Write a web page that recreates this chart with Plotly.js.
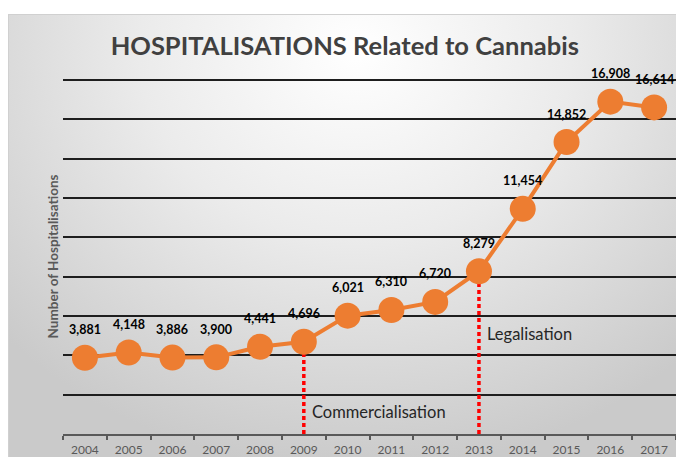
<!DOCTYPE html>
<html>
<head>
<meta charset="utf-8">
<script src="https://cdn.plot.ly/plotly-3.0.1.min.js"></script>
<style>
html,body{margin:0;padding:0;background:#fff;}
#wrap{position:relative;width:676px;height:457px;overflow:hidden;background:#fff;}
#bg{position:absolute;left:8px;top:14px;right:0;bottom:0;
 background:radial-gradient(ellipse 72% 95% at 52% 8%, #ffffff 0%, #ebebeb 45%, #d3d3d3 85%, #cacaca 100%);
 border-top:1px solid #d0d0d0;border-left:1px solid #d0d0d0;}
#chart{position:absolute;left:0;top:0;width:676px;height:457px;}
</style>
</head>
<body>
<div id="wrap"><div id="bg"></div><div id="chart"></div></div>
<script>
const years = ['2004','2005','2006','2007','2008','2009','2010','2011','2012','2013','2014','2015','2016','2017'];
const hospitalisations = [3881,4148,3886,3900,4441,4696,6021,6310,6720,8279,11454,14852,16908,16614];
const milestoneYears = ['2009','2013'];
const milestoneLabels = ['Commercialisation','Legalisation'];
const milestoneLabelLevels = [1100,5100];

const traces = [];
traces.push({x:years, y:hospitalisations, type:'scatter', mode:'none', hoverinfo:'skip', showlegend:false});
milestoneYears.forEach(function(yr){
  const v = hospitalisations[years.indexOf(yr)];
  traces.push({x:[yr,yr], y:[0,v], type:'scatter', mode:'lines',
    line:{color:'#ff0000', width:3.5, dash:'4px,3px'}, hoverinfo:'skip', showlegend:false});
});
traces.push({x:years, y:hospitalisations, type:'scatter', mode:'lines+markers',
  line:{color:'#ED7D31', width:4}, marker:{color:'#ED7D31', size:26},
  hoverinfo:'skip', showlegend:false});

const annotations = years.map(function(yr,i){
  return {x:i, y:hospitalisations[i], xref:'x', yref:'y', yshift:28, showarrow:false,
    text:'<b>' + hospitalisations[i].toLocaleString('en-US') + '</b>',
    font:{family:'Lato, sans-serif', size:12.5, color:'#000'}};
});
milestoneYears.forEach(function(yr,i){
  annotations.push({x:years.indexOf(yr), y:milestoneLabelLevels[i], xref:'x', yref:'y', xanchor:'left', xshift:6,
    showarrow:false, text:milestoneLabels[i],
    font:{family:'Lato, sans-serif', size:16.5, color:'#262626'}});
});

const layout = {
  width:676, height:457,
  margin:{l:63, r:0, t:79, b:23},
  paper_bgcolor:'rgba(0,0,0,0)', plot_bgcolor:'rgba(0,0,0,0)',
  title:{text:'<b>HOSPITALISATIONS Related to Cannabis</b>', x:0.51, xanchor:'center',
    y:0.9, yanchor:'middle', yref:'container',
    font:{family:'Lato, sans-serif', size:25.5, color:'#404040'}},
  xaxis:{type:'category', categoryorder:'array', categoryarray:years, range:[-0.5,13.5],
    showgrid:false, showline:true, linecolor:'#595959', linewidth:2,
    ticks:'outside', tickson:'boundaries', ticklen:4, tickcolor:'#595959', tickwidth:2,
    ticklabelstandoff:4,
    tickfont:{family:'Lato, sans-serif', size:12, color:'#595959'}, fixedrange:true},
  yaxis:{range:[0,18060], dtick:2000, showgrid:true, gridcolor:'#1e1e1e', gridwidth:2,
    zeroline:false, showticklabels:false, ticks:'',
    title:{text:'<b>Number of Hospitalisations</b>', standoff:0,
      font:{family:'Lato, sans-serif', size:13.5, color:'#595959'}}, fixedrange:true},
  annotations:annotations,
  hovermode:false
};
Plotly.newPlot('chart', traces, layout, {displayModeBar:false, staticPlot:true});
</script>
</body>
</html>
